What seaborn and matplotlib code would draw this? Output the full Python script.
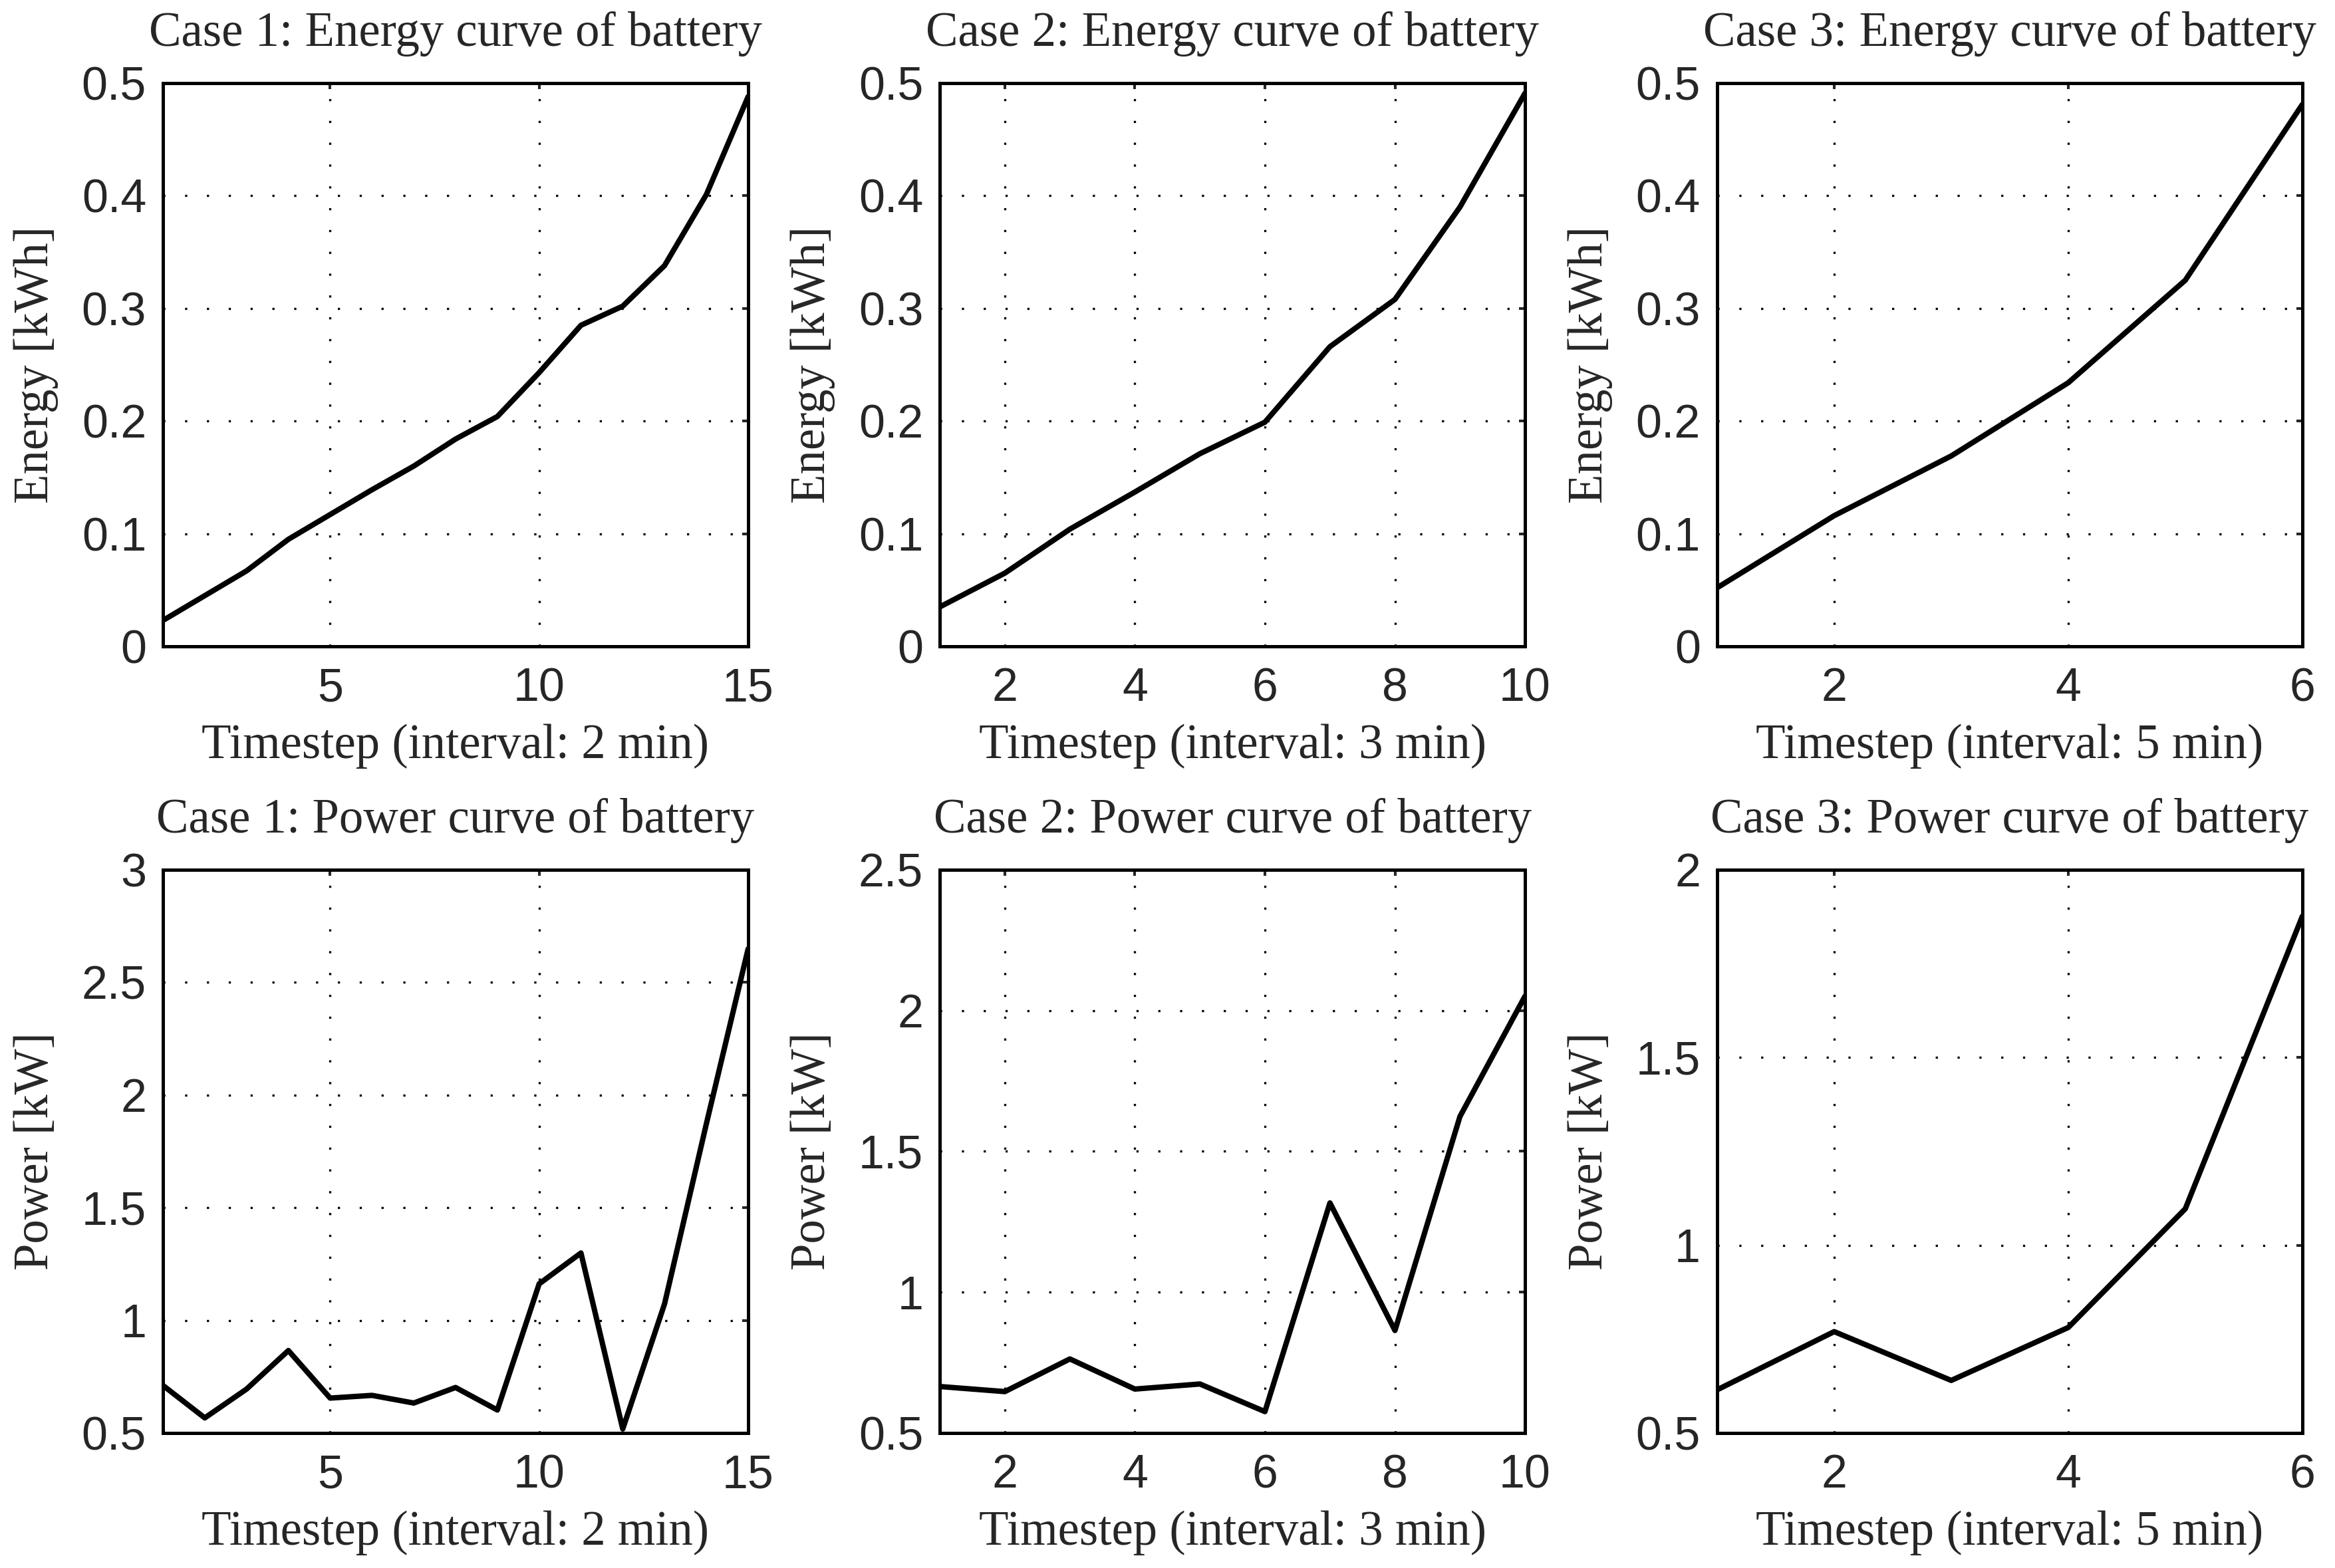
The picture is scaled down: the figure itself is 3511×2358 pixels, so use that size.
import matplotlib
matplotlib.use("Agg")
import matplotlib.pyplot as plt
import matplotlib.ticker as mticker
import numpy as np
import pandas as pd
import seaborn as sns

# values
energy_case1 = [0.023, 0.045, 0.067, 0.095, 0.117, 0.139, 0.160, 0.184, 0.204,
                0.243, 0.285, 0.302, 0.338, 0.401, 0.488]
power_case1 = [0.711, 0.567, 0.695, 0.866, 0.655, 0.667, 0.633, 0.702, 0.602,
               1.162, 1.299, 0.518, 1.073, 1.872, 2.649]
energy_case2 = [0.035, 0.065, 0.104, 0.137, 0.171, 0.199, 0.266, 0.308, 0.390, 0.491]
power_case2 = [0.665, 0.647, 0.763, 0.656, 0.674, 0.576, 1.317, 0.864, 1.624, 2.051]
energy_case3 = [0.052, 0.116, 0.169, 0.234, 0.325, 0.481]
power_case3 = [0.615, 0.770, 0.640, 0.781, 1.097, 1.876]

cases = ["Case 1", "Case 2", "Case 3"]
intervals = ["2 min", "3 min", "5 min"]
xticks = [[5, 10, 15], [2, 4, 6, 8, 10], [2, 4, 6]]
power_ylim = [(0.5, 3.0), (0.5, 2.5), (0.5, 2.0)]

sns.set_style("white")
plt.rcParams["font.family"] = ["Liberation Serif", "DejaVu Serif"]

fig = plt.figure(figsize=(3511 / 225, 2358 / 225), dpi=225)

lefts = [0.0698, 0.4025, 0.7354]
width = 0.2506
rows = [(0.5878, 0.3592), (0.0861, 0.3592)]

energies = [energy_case1, energy_case2, energy_case3]
powers = [power_case1, power_case2, power_case3]

grid_kw = dict(color="black", linestyle=(0, (1, 9)), linewidth=1.05)
TXT = 23.3


def style_axis(ax, xmax, ticks, ylim, ystep):
    ax.set_xlim(1, xmax)
    ax.set_ylim(*ylim)
    ax.set_xticks(ticks)
    ax.set_yticks(np.arange(ylim[0], ylim[1] + ystep / 2, ystep))
    ax.yaxis.set_major_formatter(mticker.FuncFormatter(lambda v, p: "%g" % round(v, 3)))
    ax.xaxis.set_major_formatter(mticker.FuncFormatter(lambda v, p: "%g" % v))
    ax.grid(True, **grid_kw)
    ax.tick_params(direction="in", top=True, right=True, length=3, width=1.3,
                   labelsize=22.4)
    ax.tick_params(axis="y", pad=8)
    ax.tick_params(axis="x", pad=10)
    for lab in ax.get_xticklabels() + ax.get_yticklabels():
        lab.set_fontfamily("Liberation Sans")
    for s in ax.spines.values():
        s.set_color("black")
        s.set_linewidth(1.6)


for i in range(3):
    n = len(energies[i])
    df = pd.DataFrame({"t": np.arange(1, n + 1), "energy": energies[i], "power": powers[i]})

    ax = fig.add_axes([lefts[i], rows[0][0], width, rows[0][1]])
    sns.lineplot(data=df, x="t", y="energy", ax=ax, color="black", linewidth=2.6)
    style_axis(ax, n, xticks[i], (0, 0.5), 0.1)
    ax.set_title(cases[i] + ": Energy curve of battery", fontsize=TXT, pad=18)
    ax.set_xlabel("Timestep (interval: " + intervals[i] + ")", fontsize=TXT, labelpad=6)
    ax.set_ylabel("Energy [kWh]", fontsize=TXT, labelpad=11)

    ax = fig.add_axes([lefts[i], rows[1][0], width, rows[1][1]])
    sns.lineplot(data=df, x="t", y="power", ax=ax, color="black", linewidth=2.6)
    style_axis(ax, n, xticks[i], power_ylim[i], 0.5)
    ax.set_title(cases[i] + ": Power curve of battery", fontsize=TXT, pad=18)
    ax.set_xlabel("Timestep (interval: " + intervals[i] + ")", fontsize=TXT, labelpad=6)
    ax.set_ylabel("Power [kW]", fontsize=TXT, labelpad=11)

fig.savefig("out.png", dpi=225)
plt.close(fig)
